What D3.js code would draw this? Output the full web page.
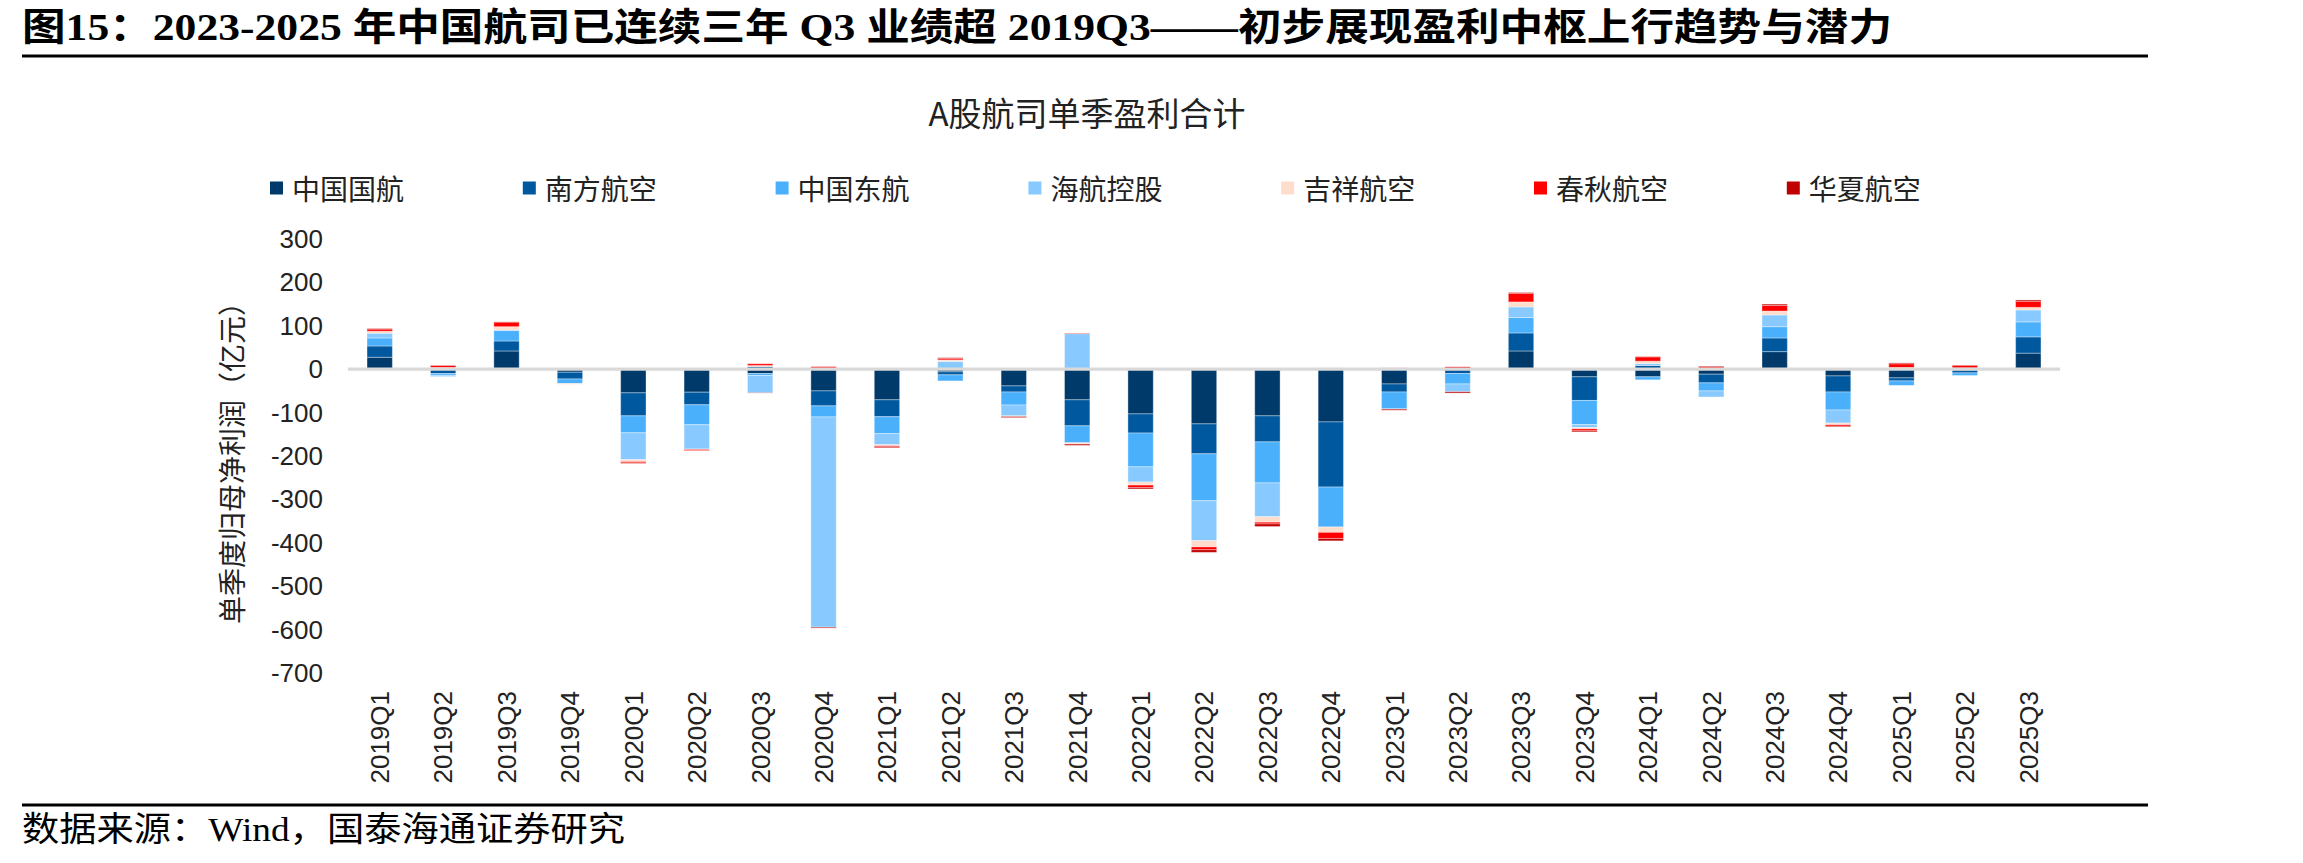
<!DOCTYPE html>
<html>
<head>
<meta charset="utf-8">
<script src="https://cdn.jsdelivr.net/npm/d3@7"></script>
<style>
	body { margin: 0; background: #fff; }
	#app svg { display: block; }
</style>
</head>
<body>
<div id="app"></div>
<script>
///////////////////////////////////////////////////////////////////////////
//////////////////////////// data /////////////////////////////////////////
///////////////////////////////////////////////////////////////////////////

const quarters = [
	"2019Q1", "2019Q2", "2019Q3", "2019Q4",
	"2020Q1", "2020Q2", "2020Q3", "2020Q4",
	"2021Q1", "2021Q2", "2021Q3", "2021Q4",
	"2022Q1", "2022Q2", "2022Q3", "2022Q4",
	"2023Q1", "2023Q2", "2023Q3", "2023Q4",
	"2024Q1", "2024Q2", "2024Q3", "2024Q4",
	"2025Q1", "2025Q2", "2025Q3"
];

const airlines = ["中国国航", "南方航空", "中国东航", "海航控股", "吉祥航空", "春秋航空", "华夏航空"];

// 单季度归母净利润（亿元），
const airChina = [27.5, 2, 42, -7, -54.5, -53, -10, -50, -70.5, -6, -38.5, -70.5, -103, -126, -107.5, -121.5, -34, 0.5, 42, -17.5, -17.5, -11.5, 40.5, -15.5, -20, -2, 37];
const chinaSouthern = [26, -10, 23, -15.5, -53, -29, 6, -34.5, -39, -7, -14, -60, -44, -69, -60, -150, -18.5, -10, 41.5, -54.5, 8.5, -20, 31.5, -37, -7, -6.5, 37.5];
const chinaEastern = [18.5, -4, 24, -10.5, -39, -46, -4.5, -25.5, -39, -14, -30, -39, -78, -108, -94.5, -92, -39, -24, 35.5, -55.5, -7, -18.5, 26, -41.5, -10.5, -6, 34.5];
const hainan = [11, -3, 1.5, 0, -62, -56, -40, -484.5, -25.5, 18, -25, 82, -35, -92, -78, 3, 0, -18, 24.5, -7, 4.5, -14, 27, -30, -0.5, 0, 27.5];
const juneyao = [4.5, 2, 7.5, -2, -4.5, -1, 2.5, 2.5, -2.5, 3.5, -1.5, -3, -7, -14.5, -12.5, -12.5, -0.5, 1, 11.5, -3, 5.5, 1, 9, -4, 4, 3, 6];
const spring = [5, 4.5, 10.5, 0, -3, -2.5, 4, 3.5, -2.5, 3.5, 1, 1, -6, -6.5, -4, -14, 3, 4, 20, -4.5, 10, 4.5, 13, -3.5, 8.5, 6, 14];
const chinaExpress = [1, 0.7, 0.5, 0, -1, 0, -0.5, -2, -2, 1.5, -2.5, -3, -3, -6, -6, -5.5, -2.5, -3, 1.5, -2.5, 0.5, 1.5, 3, -1.5, 2, 0.5, 3];

const yTicks = [300, 200, 100, 0, -100, -200, -300, -400, -500, -600, -700];

const colors = ["#003a6b", "#00589f", "#4bb0fc", "#88caff", "#ffddcc", "#ff0000", "#c00000"];

const figTitle = "图15：2023-2025 年中国航司已连续三年 Q3 业绩超 2019Q3——初步展现盈利中枢上行趋势与潜力";
const chartTitle = "A股航司单季盈利合计";
const yTitle = "单季度归母净利润（亿元）";
const source = "数据来源：Wind，国泰海通证券研究";

///////////////////////////////////////////////////////////////////////////
//////////////////////////// drawing function /////////////////////////////
///////////////////////////////////////////////////////////////////////////

const createChart = () => {
	const series = [airChina, chinaSouthern, chinaEastern, hainan, juneyao, spring, chinaExpress];

	// one row per quarter for d3.stack
	const table = quarters.map((q, i) => {
		const row = { quarter: q };
		airlines.forEach((a, j) => (row[a] = series[j][i]));
		return row;
	});

	//////////////////////////// sizes ///////////////////////////////////

	let dimensions = {
		width: 2303,
		height: 863,
		margin: { top: 239, right: 243, bottom: 190, left: 348 }
	};
	dimensions.boundedWidth = dimensions.width - dimensions.margin.left - dimensions.margin.right;
	dimensions.boundedHeight = dimensions.height - dimensions.margin.top - dimensions.margin.bottom;

	const sansCJK = '"Noto Sans CJK SC", "Liberation Sans", sans-serif';
	const sansNum = '"Liberation Sans", Arial, sans-serif';
	const serif = '"Liberation Serif", "Noto Sans CJK SC", serif';

	//////////////////////////// svg ///////////////////////////////////

	const wrapper = d3
		.select("#app")
		.append("svg")
		.attr("width", dimensions.width)
		.attr("height", dimensions.height)
		.style("background", "#fff");

	const bounds = wrapper
		.append("g")
		.attr("transform", `translate(${dimensions.margin.left},${dimensions.margin.top})`);

	//////////////////////////// scales ///////////////////////////////////////

	const xScale = d3
		.scaleBand()
		.domain(quarters)
		.range([0, dimensions.boundedWidth])
		.paddingInner(0.6)
		.paddingOuter(0.3);

	const yScale = d3
		.scaleLinear()
		.domain([-700, 300])
		.range([dimensions.boundedHeight, 0]);

	const cScale = d3.scaleOrdinal().domain(airlines).range(colors);

	//////////////////////////// header ///////////////////////////////////////

	wrapper
		.append("text")
		.attr("x", 22)
		.attr("y", 27)
		.attr("dominant-baseline", "central")
		.attr("textLength", 1870)
		.attr("lengthAdjust", "spacingAndGlyphs")
		.style("font-family", serif)
		.style("font-weight", "bold")
		.style("font-size", "38px")
		.text(figTitle);

	wrapper
		.append("line")
		.attr("x1", 22)
		.attr("x2", 2148)
		.attr("y1", 56)
		.attr("y2", 56)
		.attr("stroke", "#000")
		.attr("stroke-width", 3);

	wrapper
		.append("text")
		.attr("x", 1087)
		.attr("y", 112)
		.attr("text-anchor", "middle")
		.attr("dominant-baseline", "central")
		.style("font-family", sansCJK)
		.style("font-size", "33px")
		.attr("fill", "#222")
		.text(chartTitle);

	//////////////////////////// legend ///////////////////////////////////////

	const legend = wrapper
		.selectAll(".legend")
		.data(airlines)
		.enter()
		.append("g")
		.classed("legend", true)
		.attr("transform", (d, i) => `translate(${270 + i * 252.8},188)`);

	legend
		.append("rect")
		.attr("x", 0)
		.attr("y", -6.5)
		.attr("width", 13)
		.attr("height", 13)
		.attr("fill", (d) => cScale(d));

	legend
		.append("text")
		.attr("x", 22)
		.attr("y", 0)
		.attr("dominant-baseline", "central")
		.style("font-family", sansCJK)
		.style("font-size", "28px")
		.attr("fill", "#222")
		.text((d) => d);

	//////////////////////////// bars /////////////////////////////////////////

	const stacked = d3
		.stack()
		.keys(airlines)
		.offset(d3.stackOffsetDiverging)(table);

	const layers = bounds
		.selectAll(".layer")
		.data(stacked)
		.enter()
		.append("g")
		.classed("layer", true)
		.attr("fill", (d) => cScale(d.key));

	layers
		.selectAll("rect")
		.data((d) => d.filter((s) => s[1] !== s[0]))
		.enter()
		.append("rect")
		.attr("x", (d) => xScale(d.data.quarter))
		.attr("width", xScale.bandwidth())
		.attr("y", (d) => yScale(Math.max(d[0], d[1])))
		.attr("height", (d) => Math.abs(yScale(d[0]) - yScale(d[1])))
		.attr("stroke", "#fff")
		.attr("stroke-opacity", 0.35)
		.attr("stroke-width", 1);

	// zero line sits over the bars
	bounds
		.append("line")
		.attr("x1", 0)
		.attr("x2", dimensions.boundedWidth)
		.attr("y1", yScale(0))
		.attr("y2", yScale(0))
		.attr("stroke", "#d9d9d9")
		.attr("stroke-width", 3.3);

	//////////////////////////// axes /////////////////////////////////////////

	bounds
		.selectAll(".ytick")
		.data(yTicks)
		.enter()
		.append("text")
		.classed("ytick", true)
		.attr("x", -25)
		.attr("y", (d) => yScale(d))
		.attr("text-anchor", "end")
		.attr("dominant-baseline", "central")
		.style("font-family", sansNum)
		.style("font-size", "26px")
		.attr("fill", "#222")
		.text((d) => String(d));

	bounds
		.selectAll(".xtick")
		.data(quarters)
		.enter()
		.append("text")
		.classed("xtick", true)
		.attr(
			"transform",
			(d) => `translate(${xScale(d) + xScale.bandwidth() / 2},${dimensions.boundedHeight + 18}) rotate(-90)`
		)
		.attr("text-anchor", "end")
		.attr("dy", "0.36em")
		.style("font-family", sansNum)
		.style("font-size", "26px")
		.attr("fill", "#222")
		.text((d) => d);

	wrapper
		.append("text")
		.attr("transform", `translate(231,${dimensions.margin.top + dimensions.boundedHeight / 2}) rotate(-90)`)
		.attr("text-anchor", "middle")
		.attr("dominant-baseline", "central")
		.style("font-family", sansCJK)
		.style("font-size", "28px")
		.attr("fill", "#222")
		.text(yTitle);

	//////////////////////////// footer ///////////////////////////////////////

	wrapper
		.append("line")
		.attr("x1", 22)
		.attr("x2", 2148)
		.attr("y1", 805)
		.attr("y2", 805)
		.attr("stroke", "#000")
		.attr("stroke-width", 3);

	wrapper
		.append("text")
		.attr("x", 22)
		.attr("y", 829)
		.attr("dominant-baseline", "central")
		.attr("textLength", 603)
		.attr("lengthAdjust", "spacingAndGlyphs")
		.style("font-family", serif)
		.style("font-size", "34px")
		.text(source);
};

createChart();
</script>
</body>
</html>
